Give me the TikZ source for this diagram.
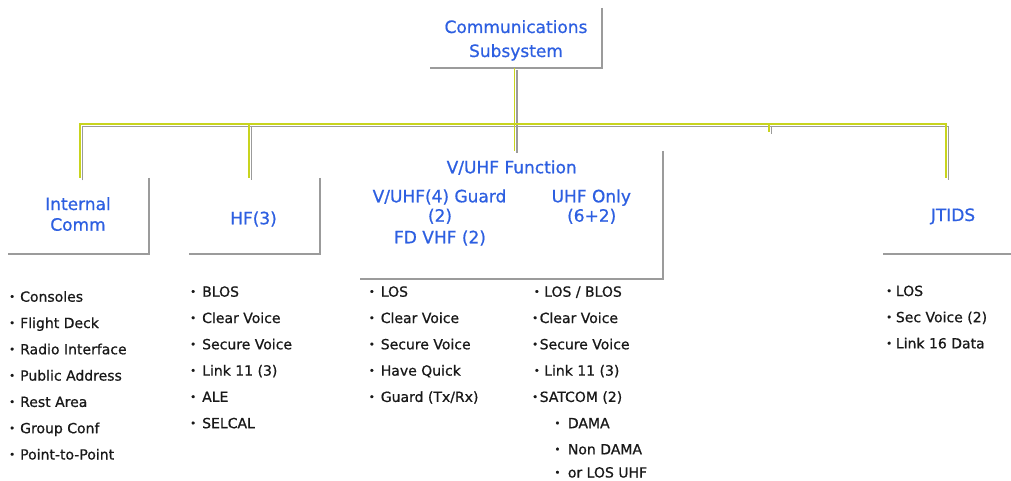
\documentclass[tikz,border=0pt]{standalone}
\usepackage{fontspec}
\setmainfont[FakeBold=0.6,AutoFakeBold=0.6]{DejaVu Sans}
\newfontfamily\heavy[FakeBold=0.7]{DejaVu Sans}
\definecolor{titleblue}{RGB}{45,95,225}
\definecolor{linkyellow}{RGB}{200,212,30}
\definecolor{shadowgray}{RGB}{155,155,155}
% small bullet followed by a gap of #1 pt
\newcommand\bt[1]{\raisebox{1.5pt}{\fontsize{10}{10}\selectfont •}\hspace{#1pt}}
\begin{document}
\begin{tikzpicture}[x=1pt,y=-1pt,
  box/.style={inner sep=0pt,outer sep=0pt,draw=none},
  title/.style={anchor=base,inner sep=0pt,text=titleblue,font=\heavy\fontsize{17}{20}\selectfont},
  item/.style={anchor=base west,inner sep=0pt,text=black!90,font=\heavy\fontsize{14}{16}\selectfont},
  shade/.style={draw=shadowgray,line width=2pt},
  link/.style={draw=linkyellow,line width=1.4pt},
  linkshade/.style={draw=shadowgray,line width=1.4pt,transform canvas={xshift=2.5pt,yshift=-2.5pt}}]
\useasboundingbox[fill=white] (0,0) rectangle (1011,481);

% boxes
\node[box,minimum width=172pt,minimum height=60pt] (top) at (516,38) {};
\node[box,minimum width=141pt,minimum height=76pt] (intc) at (78.5,216) {};
\node[box,minimum width=131.5pt,minimum height=76pt] (hf) at (254.25,216) {};
\node[box,minimum width=303pt,minimum height=128pt] (vuhf) at (511.5,215) {};
\node[box,minimum width=128pt,minimum height=76pt] (jt) at (947,216) {};

% box shadows
\draw[shade] (top.north east) -- (top.south east) -- (top.south west);
\draw[shade] (intc.north east) -- (intc.south east) -- (intc.south west);
\draw[shade] (hf.north east) -- (hf.south east) -- (hf.south west);
\draw[shade] (vuhf.north east) -- (vuhf.south east) -- (vuhf.south west);
\draw[shade] (jt.south west) -- (jt.south east);

% connector points
\coordinate (hub) at (514.5,124);
\coordinate (dI) at (80,124);
\coordinate (dH) at (249,124);
\coordinate (dJ) at (946,124);
\coordinate (dS) at (769,124);
\coordinate (dSe) at (769,132);

% connectors: grey shadow under a yellow line
\foreach \sty in {linkshade,link}{
  \draw[\sty] (dI |- intc.north) -- (dI) -- (dJ) -- (dJ |- jt.north);
  \draw[\sty] (dH) -- (dH |- hf.north);
  \draw[\sty] (top.south -| hub) -- (vuhf.north -| hub);
  \draw[\sty] (dS) -- (dSe);
}

% titles
\node[title] (t1) at (516,33) {Communications};
\node[title] (t2) at (516,57) {Subsystem};
\node[title] (i1) at (78,210) {Internal};
\node[title] (i2) at (78,230.7) {Comm};
\node[title] (h1) at (253.5,224.3) {HF(3)};
\node[title] (v0) at (511.7,173.3) {V/UHF Function};
\node[title] (v1) at (439.5,202.3) {V/UHF(4) Guard};
\node[title] (v2) at (440,221.7) {(2)};
\node[title] (v3) at (440,243.3) {FD VHF (2)};
\node[title] (u1) at (591.3,202.3) {UHF Only};
\node[title] (u2) at (591.7,221.7) {(6+2)};
\node[title] (j1) at (953,221) {JTIDS};

% item lists
\foreach \txt [count=\k from 0] in {Consoles,Flight Deck,Radio Interface,Public Address,Rest Area,Group Conf,Point-to-Point}
  \node[item] (ic\k) at (9,{301.7+26.3*\k}) {\bt{5.1}\txt};
\foreach \txt [count=\k from 0] in {BLOS,Clear Voice,Secure Voice,Link 11 (3),ALE,SELCAL}
  \node[item] (hl\k) at (190,{296.7+26.3*\k}) {\bt{6.1}\txt};
\foreach \txt [count=\k from 0] in {LOS,Clear Voice,Secure Voice,Have Quick,Guard (Tx/Rx)}
  \node[item] (vl\k) at (368.7,{296.7+26.3*\k}) {\bt{6}\txt};
\node[item] (ul0) at (533.7,296.7) {\bt{4.4}LOS / BLOS};
\node[item] (ul1) at (532,323) {\bt{1.6}Clear Voice};
\node[item] (ul2) at (532,349.3) {\bt{1.6}Secure Voice};
\node[item] (ul3) at (533.7,375.6) {\bt{4.4}Link 11 (3)};
\node[item] (ul4) at (532,401.9) {\bt{1.6}SATCOM (2)};
\node[item] (us0) at (554.3,428.2) {\bt{7.5}DAMA};
\node[item] (us1) at (554.3,454.3) {\bt{7.5}Non DAMA};
\node[item] (us2) at (554.3,477.5) {\bt{7.5}or LOS UHF};
\foreach \txt [count=\k from 0] in {LOS,Sec Voice (2),Link 16 Data}
  \node[item] (jl\k) at (886,{296+26.2*\k}) {\bt{3.8}\txt};
\end{tikzpicture}
\end{document}
